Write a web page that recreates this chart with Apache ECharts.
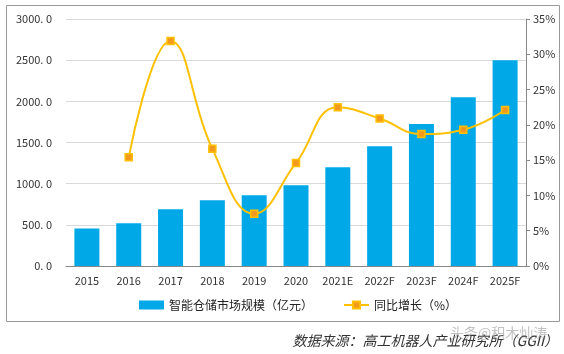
<!DOCTYPE html>
<html>
<head>
<meta charset="utf-8">
<script src="https://cdn.jsdelivr.net/npm/echarts@6/dist/echarts.min.js"></script>
<style>
  html, body { margin: 0; padding: 0; background: #fff; }
  #chart { width: 564px; height: 354px; }
</style>
</head>
<body>
<div id="chart"></div>
<script>
// values
const years = ['2015', '2016', '2017', '2018', '2019', '2020', '2021E', '2022F', '2023F', '2024F', '2025F']
const marketSize = [455, 520, 690, 800, 860, 980, 1200, 1455, 1725, 2050, 2500]
const growth = [null, 15.4, 31.9, 16.6, 7.4, 14.6, 22.5, 20.9, 18.7, 19.3, 22.1]
const leftTicks = [0, 500, 1000, 1500, 2000, 2500, 3000]
const rightTicks = [0, 5, 10, 15, 20, 25, 30, 35]

const barName = '智能仓储市场规模（亿元）'
const lineName = '同比增长（%）'
const font = "'Noto Sans CJK SC', 'DejaVu Sans', sans-serif"

const chart = echarts.init(document.getElementById('chart'))
chart.setOption({
  animation: false,
  textStyle: { fontFamily: font },
  grid: { left: 66, right: 38, top: 19, bottom: 88 },
  legend: {
    bottom: 38,
    left: 134,
    itemGap: 30,
    itemWidth: 25,
    itemHeight: 9,
    textStyle: { fontSize: 12, color: '#222', fontFamily: font },
    data: [
      { name: barName, icon: 'rect' },
      { name: lineName }
    ]
  },
  xAxis: {
    type: 'category',
    data: years,
    axisTick: { show: false },
    axisLine: { lineStyle: { color: '#888' } },
    axisLabel: { color: '#333', fontSize: 11, margin: 9 }
  },
  yAxis: [
    {
      type: 'value',
      min: leftTicks[0],
      max: leftTicks[leftTicks.length - 1],
      interval: 500,
      axisLine: { show: false },
      axisTick: { show: false },
      splitLine: { lineStyle: { color: '#d9d9d9' } },
      axisLabel: {
        color: '#333', fontSize: 11, margin: 14,
        formatter: v => v.toFixed(1).replace('.', '. ')
      }
    },
    {
      type: 'value',
      min: rightTicks[0],
      max: rightTicks[rightTicks.length - 1],
      interval: 5,
      position: 'right',
      axisLine: { show: true, lineStyle: { color: '#888' } },
      axisTick: { show: true, length: 4, lineStyle: { color: '#888' } },
      splitLine: { show: false },
      axisLabel: { color: '#333', fontSize: 11, margin: 7, formatter: '{value}%' }
    }
  ],
  series: [
    {
      name: barName,
      type: 'bar',
      data: marketSize,
      barWidth: 25,
      itemStyle: { color: '#00A8E8' }
    },
    {
      name: lineName,
      type: 'line',
      yAxisIndex: 1,
      data: growth,
      smooth: 0.45,
      symbol: 'rect',
      symbolSize: 7,
      lineStyle: { color: '#FFC000', width: 2 },
      itemStyle: { color: '#F39A1E', borderColor: '#FFC000', borderWidth: 1.5 }
    }
  ],
  graphic: [
    {
      type: 'rect',
      shape: { x: 6.5, y: 5.5, width: 553, height: 316 },
      style: { fill: null, stroke: '#9a9a9a', lineWidth: 1 },
      silent: true
    },
    {
      type: 'text',
      right: 6,
      top: 334,
      style: {
        text: '数据来源：高工机器人产业研究所（GGII）',
        fill: '#333',
        font: 'italic 14px ' + font
      }
    },
    {
      type: 'text',
      left: 450,
      top: 326,
      style: {
        text: '头条@积木灿涛',
        fill: 'rgba(120,120,120,0.45)',
        font: '14px ' + font
      }
    }
  ]
})
</script>
</body>
</html>
